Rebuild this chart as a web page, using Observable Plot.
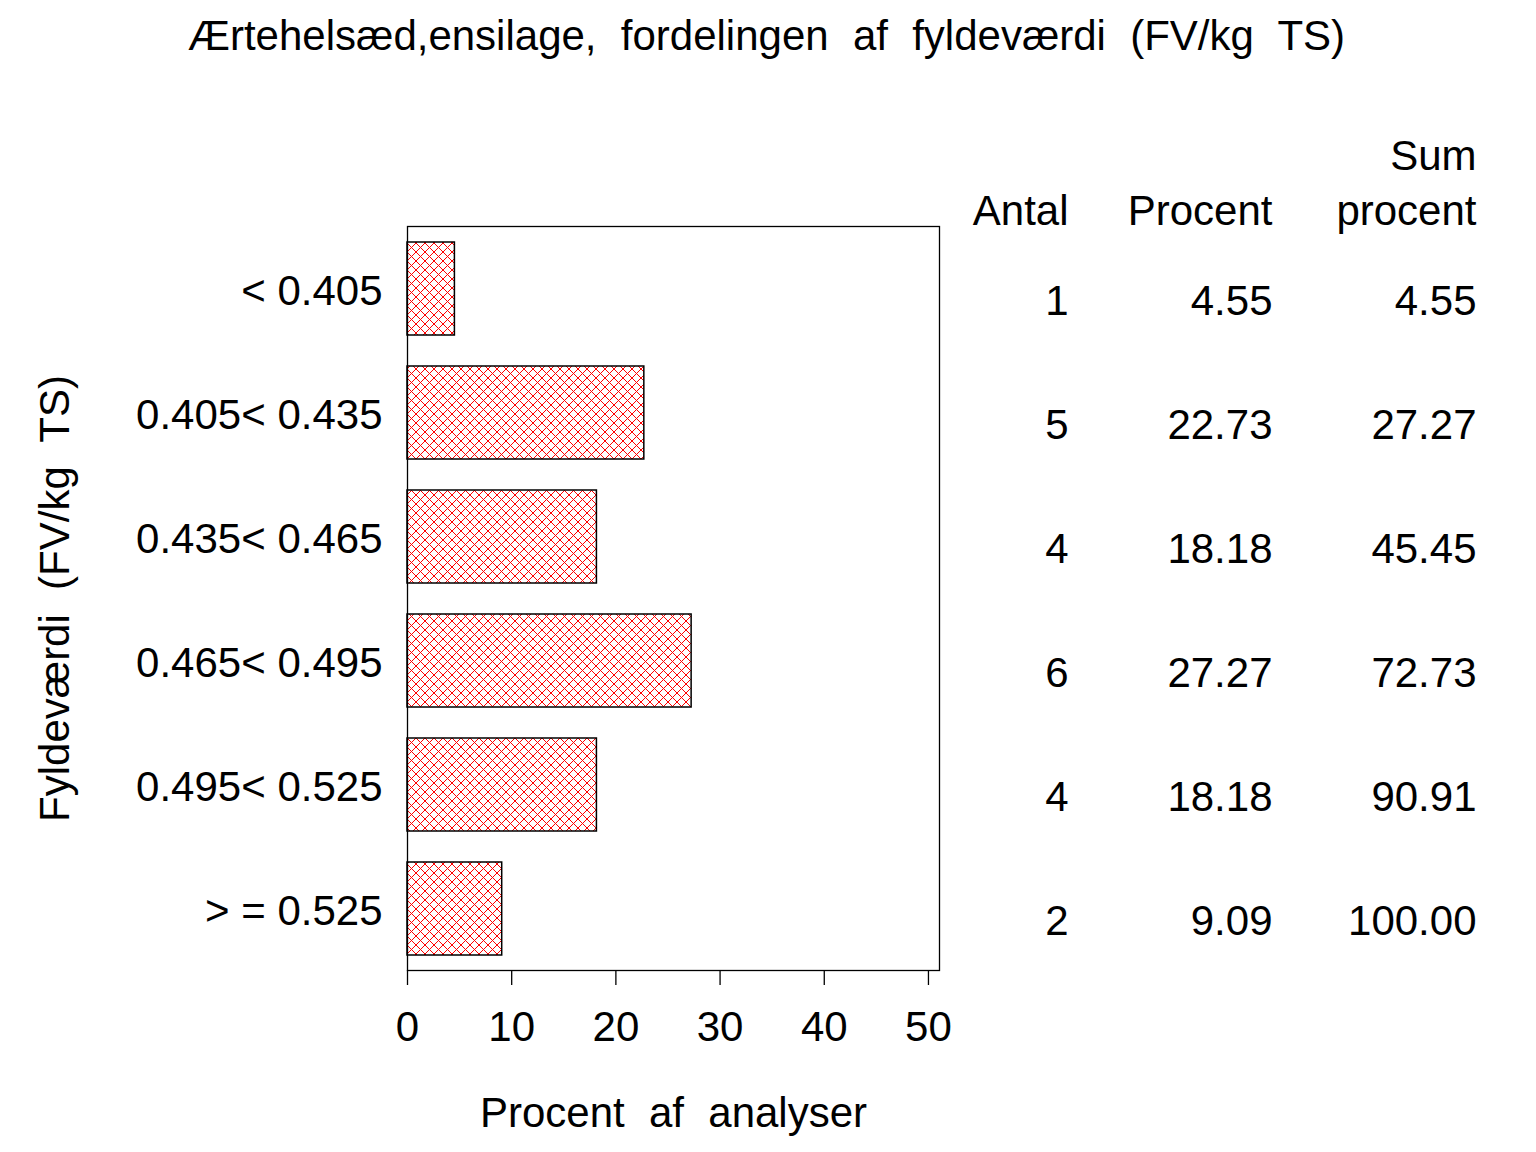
<!DOCTYPE html>
<html>
<head>
<meta charset="utf-8">
<script src="https://cdn.jsdelivr.net/npm/d3@7"></script>
<script src="https://cdn.jsdelivr.net/npm/@observablehq/plot@0.6"></script>
<style>
  html, body { margin: 0; padding: 0; background: #fff; }
  svg { display: block; }
</style>
</head>
<body>
<div id="chart"></div>
<script>
const title = "Ærtehelsæd,ensilage, fordelingen af fyldeværdi (FV/kg TS)";
const yLabel = "Fyldeværdi (FV/kg TS)";
const xLabel = "Procent af analyser";
const categories = ["< 0.405", "0.405< 0.435", "0.435< 0.465", "0.465< 0.495", "0.495< 0.525", "> = 0.525"];
const antal = [1, 5, 4, 6, 4, 2];
const procent = [4.55, 22.73, 18.18, 27.27, 18.18, 9.09];
const sumProcent = [4.55, 27.27, 45.45, 72.73, 90.91, 100.00];
const xTicks = [0, 10, 20, 30, 40, 50];
const headers = [
  {text: "Antal", col: 0, row: 1},
  {text: "Procent", col: 1, row: 1},
  {text: "Sum", col: 2, row: 0},
  {text: "procent", col: 2, row: 1}
];

const data = categories.map((c, i) => ({label: c, antal: antal[i], procent: procent[i], sum: sumProcent[i]}));

const colDx = [129, 333, 537];
const rowDy = [-86, -31];
const font = "'Liberation Sans', Arial, sans-serif";
const wide = {"word-spacing": "0.3em"};

const plot = Plot.plot({
  width: 1536,
  height: 1152,
  marginLeft: 407,
  marginRight: 597,
  marginTop: 226,
  marginBottom: 182,
  style: {fontFamily: font, fontSize: "42px", color: "black", background: "white", overflow: "visible"},
  x: {domain: [0, 51.06]},
  y: {domain: categories, paddingInner: 0.25, paddingOuter: 0.12},
  marks: [
    Plot.barX(data, {x: "procent", y: "label", fill: "url(#hatch)", stroke: "black", strokeWidth: 1.5}),
    Plot.frame({stroke: "black", strokeWidth: 1.3}),
    Plot.axisX({ticks: xTicks, tickSize: 15, tickPadding: 26, tickFormat: d => String(d), label: null, fontSize: 42, strokeWidth: 1.3}),
    Plot.axisY({tickSize: 0, tickPadding: 25, label: null, fontSize: 42, dy: 3}),
    Plot.text(data, {y: "label", text: d => String(d.antal), frameAnchor: "right", textAnchor: "end", dx: colDx[0], dy: 13, fontSize: 42}),
    Plot.text(data, {y: "label", text: d => d.procent.toFixed(2), frameAnchor: "right", textAnchor: "end", dx: colDx[1], dy: 13, fontSize: 42}),
    Plot.text(data, {y: "label", text: d => d.sum.toFixed(2), frameAnchor: "right", textAnchor: "end", dx: colDx[2], dy: 13, fontSize: 42}),
    ...headers.map(h => Plot.text([h.text], {frameAnchor: "top-right", textAnchor: "end", dx: colDx[h.col], dy: rowDy[h.row], fontSize: 42})),
    Plot.text([title], {frameAnchor: "top", dx: 93, dy: -206, fontSize: 42, className: "wide"}),
    Plot.text([xLabel], {frameAnchor: "bottom", dy: 156, fontSize: 42, className: "wide"}),
    Plot.text([yLabel], {frameAnchor: "left", textAnchor: "middle", rotate: -90, dx: -352, fontSize: 42, className: "wide"})
  ]
});

const ns = "http://www.w3.org/2000/svg";
const defs = document.createElementNS(ns, "defs");
const pat = document.createElementNS(ns, "pattern");
pat.setAttribute("id", "hatch");
pat.setAttribute("patternUnits", "userSpaceOnUse");
pat.setAttribute("width", "9");
pat.setAttribute("height", "9");
pat.setAttribute("x", "407");
pat.setAttribute("y", "0");
const bg = document.createElementNS(ns, "rect");
bg.setAttribute("width", "9"); bg.setAttribute("height", "9"); bg.setAttribute("fill", "white");
pat.appendChild(bg);
for (const d of ["M0,0L9,9", "M0,9L9,0"]) {
  const p = document.createElementNS(ns, "path");
  p.setAttribute("d", d);
  p.setAttribute("stroke", "#ff0000");
  p.setAttribute("stroke-width", "1");
  pat.appendChild(p);
}
defs.appendChild(pat);
plot.insertBefore(defs, plot.firstChild);
plot.querySelectorAll("g.wide text, .wide text").forEach(t => t.setAttribute("word-spacing", "0.3em"));
document.getElementById("chart").appendChild(plot);
</script>
</body>
</html>
